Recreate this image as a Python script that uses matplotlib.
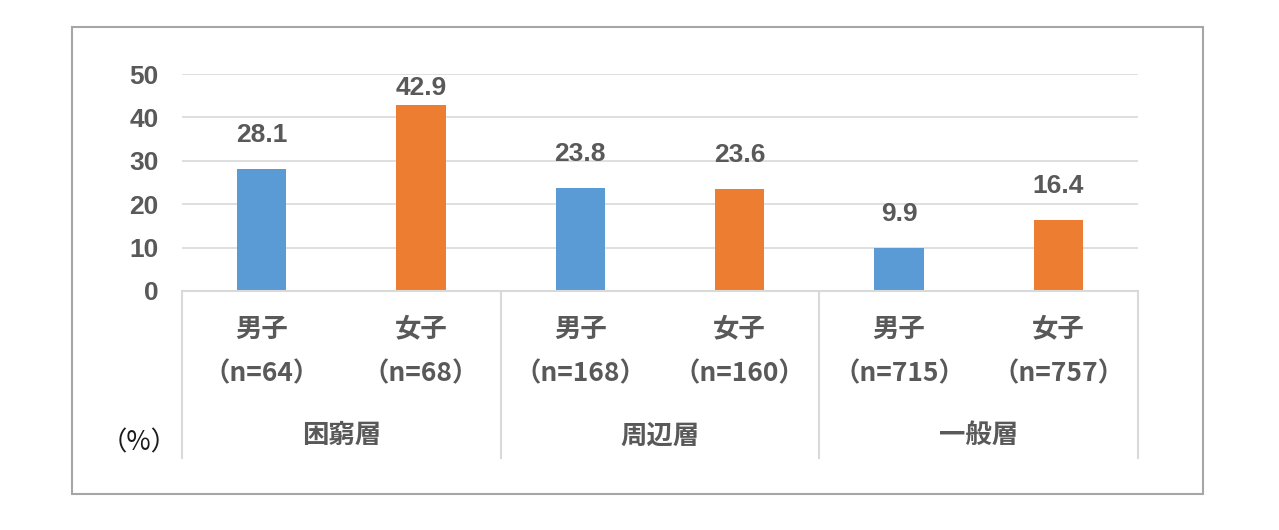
import matplotlib
matplotlib.use('Agg')
import matplotlib.pyplot as plt
from matplotlib.patches import Rectangle
import numpy as np

plt.rcParams['font.family'] = ['Noto Sans CJK JP', 'DejaVu Sans']

groups = ['困窮層', '周辺層', '一般層']
sexes = ['男子', '女子']
counts = ['（n=64）', '（n=68）', '（n=168）', '（n=160）', '（n=715）', '（n=757）']
values = [28.1, 42.9, 23.8, 23.6, 9.9, 16.4]

blue = '#5B9BD5'
orange = '#ED7D31'
txt = '#595959'
grid = '#D9D9D9'
num_font = ['Liberation Sans', 'Noto Sans CJK JP']

W, H = 1279, 530
fig = plt.figure(figsize=(W / 100, H / 100), dpi=100)
fig.patch.set_facecolor('white')

# outer chart border
fig.patches.append(Rectangle((72 / W, (H - 494) / H), 1131 / W, 467 / H,
                             transform=fig.transFigure, fill=False,
                             edgecolor='#A6A6A6', linewidth=1.5))

ax = fig.add_axes([182 / W, (H - 291) / H, 956 / W, 217 / H])
x = np.arange(len(values))
colors = [blue if i % 2 == 0 else orange for i in range(len(values))]
ax.bar(x, values, width=0.31, color=colors, zorder=3)

ax.set_xlim(-0.5, len(values) - 0.5)
ax.set_ylim(0, 50)
ax.set_yticks(np.arange(0, 51, 10))
ax.yaxis.grid(True, color=grid, linewidth=1.2, zorder=0)
for s in ax.spines.values():
    s.set_visible(False)
ax.tick_params(axis='y', length=0, pad=17, labelcolor=txt)
for lab in ax.get_yticklabels():
    lab.set_fontweight('bold')
    lab.set_fontsize(19)
    lab.set_family(num_font)
ax.set_xticks([])

# data labels
for xi, v in zip(x, values):
    ax.text(xi, min(v + 7.8, 46.8), f'{v:.1f}', ha='center', va='center',
            fontsize=19, fontweight='bold', color=txt, family=num_font)

# category axis (multi-level)
trans = ax.get_xaxis_transform()
ax.plot([-0.5, len(values) - 0.5], [0, 0], color=grid, lw=1.5,
        transform=trans, clip_on=False, zorder=4)
for sep in [-0.5, 1.5, 3.5, 5.5]:
    ax.plot([sep, sep], [0, -0.77], color=grid, lw=1.5,
            transform=trans, clip_on=False)
for xi in x:
    ax.text(xi, -0.175, sexes[xi % 2], transform=trans, ha='center',
            va='center', fontsize=19, fontweight='bold', color=txt)
    ax.text(xi, -0.382, counts[xi], transform=trans, ha='center',
            va='center', fontsize=19, fontweight='bold', color=txt)
for gi, g in enumerate(groups):
    ax.text(2 * gi + 0.5, -0.668, g, transform=trans, ha='center',
            va='center', fontsize=19, fontweight='bold', color=txt)

fig.text(139 / W, (H - 443) / H, '（%）', ha='center', va='center',
         fontsize=19, color='#1A1A1A')

fig.savefig('out.png', dpi=100, facecolor='white')
